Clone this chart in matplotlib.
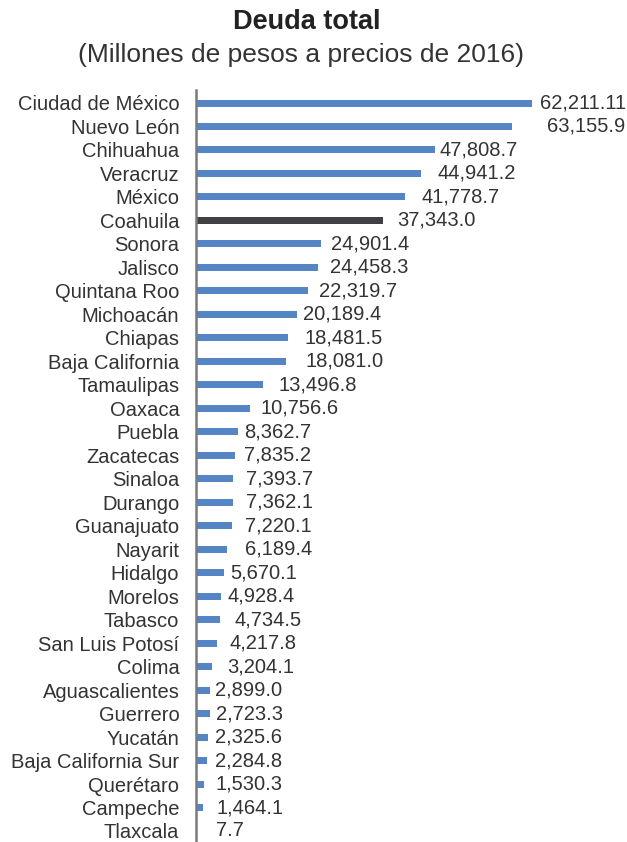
import matplotlib
matplotlib.use("Agg")
import matplotlib.pyplot as plt
from matplotlib import transforms

plt.rcParams['font.family'] = ['Liberation Sans', 'DejaVu Sans']

estados = ['Ciudad de México', 'Nuevo León', 'Chihuahua', 'Veracruz', 'México',
           'Coahuila', 'Sonora', 'Jalisco', 'Quintana Roo', 'Michoacán', 'Chiapas',
           'Baja California', 'Tamaulipas', 'Oaxaca', 'Puebla', 'Zacatecas',
           'Sinaloa', 'Durango', 'Guanajuato', 'Nayarit', 'Hidalgo', 'Morelos',
           'Tabasco', 'San Luis Potosí', 'Colima', 'Aguascalientes', 'Guerrero',
           'Yucatán', 'Baja California Sur', 'Querétaro', 'Campeche', 'Tlaxcala']
# bar lengths as drawn (the CDMX bar is drawn longer than its label says)
deuda = [67200, 63155.9, 47808.7, 44941.2, 41778.7, 37343.0, 24901.4, 24458.3,
         22319.7, 20189.4, 18481.5, 18081.0, 13496.8, 10756.6, 8362.7, 7835.2,
         7393.7, 7362.1, 7220.1, 6189.4, 5670.1, 4928.4, 4734.5, 4217.8, 3204.1,
         2899.0, 2723.3, 2325.6, 2284.8, 1530.3, 1464.1, 7.7]
etiquetas = ['62,211.11', '63,155.9', '47,808.7', '44,941.2', '41,778.7', '37,343.0',
             '24,901.4', '24,458.3', '22,319.7', '20,189.4', '18,481.5', '18,081.0',
             '13,496.8', '10,756.6', '8,362.7', '7,835.2', '7,393.7', '7,362.1',
             '7,220.1', '6,189.4', '5,670.1', '4,928.4', '4,734.5', '4,217.8',
             '3,204.1', '2,899.0', '2,723.3', '2,325.6', '2,284.8', '1,530.3',
             '1,464.1', '7.7']
resaltado = 'Coahuila'

# gap (px) between bar end and its value label, as in the original
gap = [8, 35, 4, 17, 17, 14, 10, 12, 11, 6, 16, 19, 15, 11, 6, 9, 13, 13, 13, 18,
       6, 7, 15, 12, 15, 5, 6, 7, 8, 12, 13, 20]

W, H = 627, 842
paso = (831 - 103) / 31
fig = plt.figure(figsize=(W / 100, H / 100), dpi=100)
ax = fig.add_axes([196 / W, 0, (W - 196) / W, 752 / H])

n = len(estados)
pos = list(range(n))
colores = ['#404145' if e == resaltado else '#5585c5' for e in estados]
ax.barh(pos, deuda, height=7 / paso, color=colores, zorder=2)

ax.set_xlim(0, (W - 196) * 200)
ax.set_ylim((842 - 103) / paso, -13 / paso)

fs = 14.5
for i, (v, t) in enumerate(zip(deuda, etiquetas)):
    tr = ax.transData + transforms.ScaledTranslation(gap[i] / 100, 0, fig.dpi_scale_trans)
    ax.text(v, i, t, transform=tr, ha='left', va='center', fontsize=fs,
            color='#333333', clip_on=False)

ax.set_yticks(pos)
ax.set_yticklabels(estados, fontsize=fs, color='#333333')
ax.tick_params(axis='y', length=0, pad=12)
ax.set_xticks([])
for s in ['top', 'right', 'bottom']:
    ax.spines[s].set_visible(False)
ax.spines['left'].set_color('#7a7a7a')
ax.spines['left'].set_linewidth(1.8)

fig.text(307 / W, 1 - 22 / H, 'Deuda total', ha='center', va='center',
         fontsize=19.5, fontweight='bold', color='#222222')
fig.text(301 / W, 1 - 55 / H, '(Millones de pesos a precios de 2016)', ha='center',
         va='center', fontsize=19, color='#333333')

fig.savefig('out.png', dpi=100)
